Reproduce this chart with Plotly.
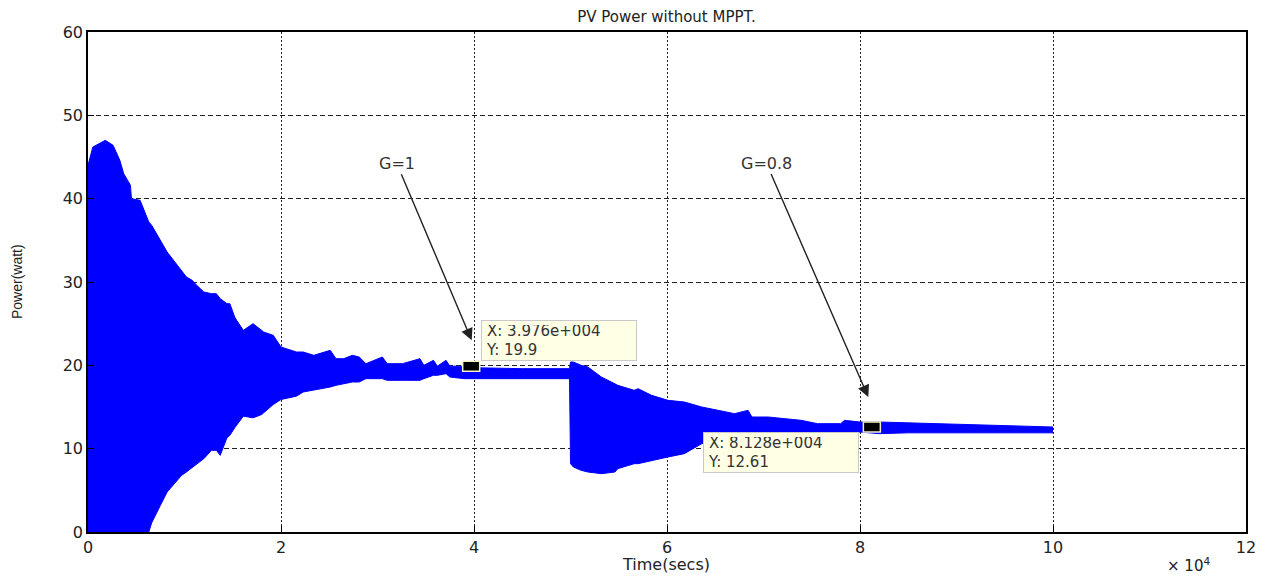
import plotly.graph_objects as go

# ---- data (time in seconds, power in watts) ----
time_s = [0, 500, 1800, 2600, 3300, 3700, 4400, 4500, 5400, 6100, 6300, 6600,
          6800, 7300, 7500, 8200, 9000, 9700, 10200, 10800, 11100, 12000,
          12800, 13300, 13700, 14400, 14700, 15200, 15400, 16100, 17100,
          18000, 18200, 19200, 20000, 21600, 22300, 23400, 25100, 25700,
          26500, 27400, 28100, 28800, 30500, 31000, 32600, 34400, 34800,
          35800, 36200, 37100, 37500, 39000, 40500, 45000, 49900, 50000,
          50300, 51100, 51800, 53200, 54600, 54900, 56600, 57000, 58400,
          60100, 61800, 63600, 65300, 67000, 68400, 68800, 70500, 72200,
          73900, 75600, 78000, 78400, 80000, 82000, 85000, 90000, 95000,
          100000]
power_upper = [44.0, 46.2, 47.0, 46.4, 44.6, 43.0, 41.6, 40.0, 39.8, 37.6,
               37.2, 36.8, 36.4, 35.4, 35.0, 33.6, 32.4, 31.4, 30.6, 30.2,
               29.8, 28.8, 28.6, 28.6, 28.0, 27.4, 27.4, 25.8, 25.4, 24.2,
               25.0, 24.2, 24.0, 23.6, 22.2, 21.6, 21.6, 21.2, 21.8, 20.8,
               20.8, 21.2, 21.0, 20.2, 21.0, 20.2, 20.2, 20.8, 20.0, 20.6,
               19.9, 20.6, 19.9, 19.9, 19.7, 19.6, 19.6, 20.4, 20.4, 20.0,
               19.8, 18.6, 17.8, 17.6, 17.0, 17.2, 16.4, 15.8, 15.6, 15.0,
               14.6, 14.2, 14.6, 13.8, 13.8, 13.6, 13.4, 13.0, 13.0, 13.4,
               13.2, 13.2, 13.1, 12.9, 12.7, 12.6]
power_lower = [0, 0, 0, 0, 0, 0, 0, 0, 0, 0,
               0, 1.1, 1.6, 2.8, 3.2, 4.8, 5.8, 6.8, 7.2, 7.8,
               8.0, 8.8, 9.8, 9.8, 9.2, 11.3, 11.6, 12.5, 12.8, 13.9,
               13.7, 14.1, 14.3, 15.3, 15.9, 16.3, 16.8, 17.0, 17.4, 17.6,
               17.8, 18.0, 18.0, 18.4, 18.4, 18.2, 18.2, 18.2, 18.4, 18.8,
               18.8, 19.0, 18.6, 18.4, 18.4, 18.4, 18.4, 8.2, 7.8, 7.4,
               7.2, 7.0, 7.2, 7.6, 8.2, 8.2, 8.6, 9.0, 9.4, 10.6,
               10.8, 11.0, 11.2, 11.2, 11.4, 11.5, 11.6, 11.7, 11.8, 11.8,
               12.0, 11.8, 11.9, 11.9, 11.9, 11.9]

x_tick_vals = [0, 20000, 40000, 60000, 80000, 100000, 120000]
x_tick_text = ["0", "2", "4", "6", "8", "10", "12"]
y_tick_vals = [0, 10, 20, 30, 40, 50, 60]

tip_x = [39760, 81280]
tip_y = [19.9, 12.61]
tip_text = ["X: 3.976e+004<br>Y: 19.9", "X: 8.128e+004<br>Y: 12.61"]

g_labels = ["G=1", "G=0.8"]
g_head_x = [39760, 80860]
g_head_y = [23.0, 16.2]

BLUE = "#0000FF"
FONT = "DejaVu Sans"
# the page body has an 8px default margin; size the figure to fill the rest
BODY = 8
W, H = 1267 - BODY, 578 - BODY

fig = go.Figure()
fig.add_trace(go.Scatter(x=time_s, y=power_lower, mode="lines",
                         line=dict(color=BLUE, width=1),
                         hoverinfo="skip", showlegend=False))
fig.add_trace(go.Scatter(x=time_s, y=power_upper, mode="lines",
                         line=dict(color=BLUE, width=1),
                         fill="tonexty", fillcolor=BLUE,
                         hoverinfo="skip", showlegend=False))

# data-tip markers (small black rectangles anchored at the data points)
for xv, yv in zip(tip_x, tip_y):
    fig.add_shape(type="rect", xref="x", yref="y",
                  xsizemode="pixel", ysizemode="pixel",
                  xanchor=xv, yanchor=yv, x0=-9, x1=8, y0=-5, y1=5,
                  fillcolor="black", line=dict(color="#F5F0C8", width=1.5))

# data-tip boxes
tip_pos = [dict(xanchor="left", yanchor="bottom", xshift=9, yshift=5),
           dict(xanchor="right", yanchor="top", xshift=-13, yshift=-5)]
for xv, yv, txt, pos in zip(tip_x, tip_y, tip_text, tip_pos):
    fig.add_annotation(x=xv, y=yv, xref="x", yref="y", text=txt,
                       showarrow=False, align="left",
                       bgcolor="#FFFFE6", bordercolor="#C8C8C8",
                       borderwidth=1, borderpad=4, width=146, height=31,
                       font=dict(family=FONT, size=15, color="#333333"),
                       **pos)

# G annotations with arrows
g_offsets = [(-75, -177), (-102, -234)]
for lab, hx, hy, (ax, ay) in zip(g_labels, g_head_x, g_head_y, g_offsets):
    fig.add_annotation(x=hx, y=hy, xref="x", yref="y", text=lab,
                       showarrow=True, ax=ax, ay=ay, arrowhead=2,
                       arrowsize=1.7, arrowwidth=1.4, arrowcolor="#222222",
                       standoff=0, startstandoff=0,
                       font=dict(family=FONT, size=16, color="#333333"))

# axis titles / exponent
fig.add_annotation(text="Time(secs)", xref="paper", yref="paper",
                   x=0.4992, y=-0.064, showarrow=False, yanchor="middle",
                   font=dict(family=FONT, size=16, color="#222222"))
fig.add_annotation(text="Power(watt)", xref="paper", yref="paper",
                   x=-0.0613, y=0.5, showarrow=False, textangle=-90,
                   xanchor="center", yanchor="middle",
                   font=dict(family="Liberation Sans", size=14, color="#222222"))
fig.add_annotation(text="× 10<sup>4</sup>", xref="paper", yref="paper",
                   x=0.9706, y=-0.066, showarrow=False, yanchor="middle",
                   font=dict(family=FONT, size=15, color="#222222"))

fig.update_layout(
    width=W, height=H,
    margin=dict(l=88 - BODY, r=21, t=32 - BODY, b=46),
    paper_bgcolor="white", plot_bgcolor="white",
    title=dict(text="PV Power without MPPT.", x=0.4995, xref="paper",
               y=1 - (17 - BODY) / H, yref="container", yanchor="middle",
               xanchor="center",
               font=dict(family=FONT, size=15, color="#222222")),
    showlegend=False,
)
fig.update_xaxes(range=[0, 120000], tickvals=x_tick_vals, ticktext=x_tick_text,
                 showgrid=True, gridcolor="#222222", gridwidth=1.3,
                 griddash="2px,2px", zeroline=False,
                 showline=True, linecolor="black", linewidth=1.5, mirror=True,
                 ticks="inside", ticklen=6, tickcolor="black",
                 tickfont=dict(family=FONT, size=16, color="#222222"))
fig.update_yaxes(range=[0, 60], tickvals=y_tick_vals,
                 showgrid=True, gridcolor="#222222", gridwidth=1,
                 griddash="5px,3px", zeroline=False,
                 showline=True, linecolor="black", linewidth=1.5, mirror=True,
                 ticks="inside", ticklen=6, tickcolor="black",
                 tickfont=dict(family=FONT, size=16, color="#222222"))

fig.write_html("out.html")
